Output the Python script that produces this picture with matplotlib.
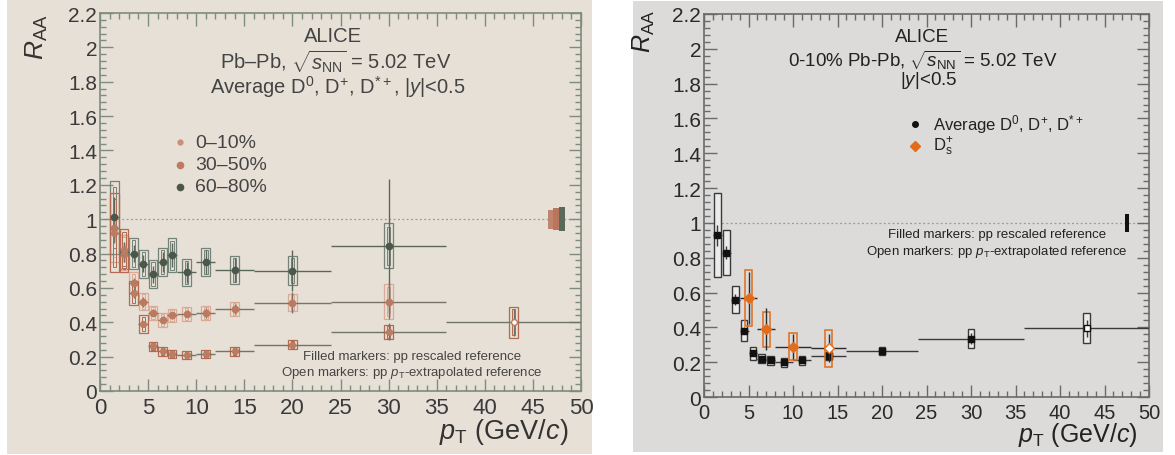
import matplotlib
matplotlib.use('Agg')
import matplotlib.pyplot as plt
from matplotlib.patches import Rectangle
from matplotlib.lines import Line2D
from matplotlib.ticker import MultipleLocator, FuncFormatter

plt.rcParams['font.family'] = ['Liberation Sans', 'DejaVu Sans']
plt.rcParams['mathtext.fontset'] = 'custom'
plt.rcParams['mathtext.rm'] = 'Liberation Sans'
plt.rcParams['mathtext.it'] = 'Liberation Sans:italic'
plt.rcParams['mathtext.bf'] = 'Liberation Sans:bold'

# ---------------- data ----------------
pt = [1.5, 2.5, 3.5, 4.5, 5.5, 6.5, 7.5, 9, 11, 14, 20, 30, 43]
pt_hw = [0.5, 0.5, 0.5, 0.5, 0.5, 0.5, 0.5, 1, 1, 2, 4, 6, 7]

# left panel: Pb-Pb centrality classes
raa_0_10 = [0.92, 0.82, 0.57, 0.39, 0.26, 0.23, 0.215, 0.21, 0.215, 0.23, 0.27, 0.345, 0.40]
stat_0_10 = [0.06, 0.04, 0.03, 0.02, 0.015, 0.015, 0.015, 0.015, 0.015, 0.02, 0.02, 0.05, 0.08]
syst_0_10 = [0.23, 0.125, 0.07, 0.05, 0.025, 0.025, 0.025, 0.025, 0.025, 0.025, 0.025, 0.04, 0.09]
open_0_10 = [False] * 12 + [True]

raa_30_50 = [0.95, 0.80, 0.63, 0.52, 0.455, 0.415, 0.44, 0.45, 0.455, 0.477, 0.515, 0.52]
stat_30_50 = [0.08, 0.05, 0.03, 0.03, 0.02, 0.02, 0.02, 0.02, 0.03, 0.03, 0.06, 0.10]
syst_30_50 = [0.20, 0.11, 0.06, 0.05, 0.04, 0.04, 0.04, 0.04, 0.04, 0.04, 0.05, 0.10]

raa_60_80 = [1.01, 0.81, 0.80, 0.74, 0.68, 0.75, 0.79, 0.69, 0.75, 0.705, 0.70, 0.845]
stat_60_80 = [0.12, 0.06, 0.05, 0.05, 0.05, 0.06, 0.07, 0.06, 0.07, 0.07, 0.12, 0.39]
syst_60_80 = [0.21, 0.10, 0.09, 0.08, 0.08, 0.08, 0.10, 0.08, 0.08, 0.08, 0.085, 0.13]

norm_left_pos = [46.9, 47.4, 48.0]
norm_left_unc = [0.055, 0.065, 0.07]

# right panel: 0-10%
raa_avgD = [0.93, 0.83, 0.56, 0.38, 0.25, 0.22, 0.21, 0.20, 0.21, 0.235, 0.265, 0.335, 0.395]
stat_avgD = [0.06, 0.04, 0.03, 0.02, 0.012, 0.012, 0.012, 0.012, 0.012, 0.015, 0.02, 0.03, 0.05]
syst_avgD = [0.24, 0.13, 0.08, 0.06, 0.035, 0.025, 0.025, 0.025, 0.025, 0.025, 0.025, 0.055, 0.085]
open_avgD = [False] * 12 + [True]

pt_Ds = [5, 7, 10, 14]
pt_hw_Ds = [1, 1, 2, 2]
raa_Ds = [0.57, 0.39, 0.29, 0.28]
stat_Ds = [0.15, 0.12, 0.07, 0.08]
syst_Ds = [0.16, 0.10, 0.075, 0.105]
open_Ds = [False, False, False, True]

norm_right_pos = 47.5
norm_right_unc = 0.05

legend_left = ['0–10%', '30–50%', '60–80%']

# ---------------- figure ----------------
W, H = 1175, 456
fig = plt.figure(figsize=(W / 100, H / 100), dpi=100)
fig.patch.set_facecolor('white')


def fx(x):
    return x / W


def fy(y):
    return 1 - y / H


# panel backgrounds
fig.add_artist(Rectangle((fx(7), fy(455)), fx(592) - fx(7), fy(0) - fy(455),
                         transform=fig.transFigure, facecolor='#e7e0d6',
                         edgecolor='none', zorder=-10))
fig.add_artist(Rectangle((fx(633), fy(453)), fx(1163) - fx(633), fy(2) - fy(453),
                         transform=fig.transFigure, facecolor='#dcdbda',
                         edgecolor='none', zorder=-10))

axL = fig.add_axes([fx(100), fy(392), fx(581) - fx(100), fy(14) - fy(392)])
axR = fig.add_axes([fx(704), fy(398), fx(1149) - fx(704), fy(15) - fy(398)])


def fmt(v, pos):
    v = round(v, 3)
    return f'{v:g}'


def style_axes(ax, spine_col, lab_col, xls, yls):
    ax.set_facecolor('none')
    ax.set_xlim(0, 50)
    ax.set_ylim(0, 2.2)
    ax.xaxis.set_major_locator(MultipleLocator(5))
    ax.xaxis.set_minor_locator(MultipleLocator(1))
    ax.yaxis.set_major_locator(MultipleLocator(0.2))
    ax.yaxis.set_minor_locator(MultipleLocator(0.04))
    ax.yaxis.set_major_formatter(FuncFormatter(fmt))
    ax.tick_params(which='both', direction='in', top=True, right=True,
                   color=spine_col, width=1.0)
    ax.tick_params(which='major', length=9)
    ax.tick_params(which='minor', length=4.5)
    ax.tick_params(axis='x', which='major', labelsize=xls, pad=4, labelcolor=lab_col)
    ax.tick_params(axis='y', which='major', labelsize=yls, pad=2, labelcolor=lab_col)
    for s in ax.spines.values():
        s.set_color(spine_col)
        s.set_linewidth(1.2)
    ax.axhline(1.0, color='#9a9a9a', lw=0.9, ls=(0, (1.5, 2)), zorder=1)


style_axes(axL, '#7f8b7f', '#3a3a3a', 16, 15)
style_axes(axR, '#6a6a6a', '#2a2a2a', 14.5, 15)


def draw_series(ax, x, xhw, y, stat, syst, bhw, mcol, bcol, ecol, marker, ms,
                openflags=None, inner=False, bface='none', z=3, blw=0.9):
    n = len(y)
    for i in range(n):
        ax.add_patch(Rectangle((x[i] - bhw, y[i] - syst[i]), 2 * bhw, 2 * syst[i],
                               facecolor=bface, edgecolor=bcol, lw=blw, zorder=z))
        if inner:
            ax.add_patch(Rectangle((x[i] - bhw * 0.4, y[i] - syst[i] * 0.85),
                                   2 * bhw * 0.4, 2 * syst[i] * 0.85,
                                   facecolor='none', edgecolor=bcol, lw=0.7, zorder=z))
    ax.errorbar(x[:n], y, xerr=xhw[:n], yerr=stat, fmt='none', ecolor=ecol,
                elinewidth=1.0, capsize=0, zorder=z + 1)
    for i in range(n):
        op = openflags[i] if openflags is not None else False
        ax.plot([x[i]], [y[i]], marker=marker, ms=ms, color=mcol,
                mfc='white' if op else mcol, mec=mcol, mew=1.0, zorder=z + 2,
                linestyle='none')


# ---- left panel ----
draw_series(axL, pt, pt_hw, raa_60_80, stat_60_80, syst_60_80, 0.45,
            '#4a574a', '#74837a', '#5a685a', 'o', 4.5, inner=True)
draw_series(axL, pt, pt_hw, raa_30_50, stat_30_50, syst_30_50, 0.45,
            '#b97a60', '#dba996', '#7a7468', 'o', 4.5, inner=True)
draw_series(axL, pt, pt_hw, raa_0_10, stat_0_10, syst_0_10, 0.45,
            '#bb7c62', '#b36a50', '#6f7568', 'o', 4.2, openflags=open_0_10, inner=True)

norm_cols_left = ['#c08470', '#b8765c', '#5a6a5a']
for xp, u, c in zip(norm_left_pos, norm_left_unc, norm_cols_left):
    axL.add_patch(Rectangle((xp - 0.3, 1 - u), 0.6, 2 * u, facecolor=c,
                            edgecolor='none', zorder=4))

# ---- right panel ----
draw_series(axR, pt, pt_hw, raa_avgD, stat_avgD, syst_avgD, 0.38,
            '#111111', '#3a3a3a', '#3a3a3a', 's', 4.5, openflags=open_avgD,
            bface='#ebebeb', blw=1.0)
draw_series(axR, pt_Ds, pt_hw_Ds, raa_Ds, stat_Ds, syst_Ds, 0.4,
            '#e06c1c', '#e06c1c', '#2a2a2a', 'D', 5.0, openflags=open_Ds, z=5,
            blw=1.1)
axR.add_patch(Rectangle((norm_right_pos - 0.2, 1 - norm_right_unc), 0.4,
                        2 * norm_right_unc, facecolor='#111111',
                        edgecolor='none', zorder=4))

# ---- axis titles ----
fig.text(fx(37), fy(14), r'$R_{\rm AA}$', rotation=90, ha='center', va='top',
         fontsize=19, color='#333333')
fig.text(fx(644), fy(10), r'$R_{\rm AA}$', rotation=90, ha='center', va='top',
         fontsize=18, color='#222222')
fig.text(fx(568), fy(432), r'$p_{\rm T}$ (GeV/$c$)', ha='right', va='center',
         fontsize=19.5, color='#333333')
fig.text(fx(1138), fy(435), r'$p_{\rm T}$ (GeV/$c$)', ha='right', va='center',
         fontsize=18, color='#222222')

# ---- left annotations ----
tc = '#444444'
fig.text(fx(333), fy(37), 'ALICE', ha='center', va='center', fontsize=14.5, color=tc)
fig.text(fx(336), fy(62), r'Pb–Pb, $\sqrt{s_{\rm NN}}$ = 5.02 TeV', ha='center',
         va='center', fontsize=14.5, color=tc)
fig.text(fx(338), fy(87), r'Average D$^{0}$, D$^{+}$, D$^{*+}$, $|y|$<0.5',
         ha='center', va='center', fontsize=14.5, color=tc)

leg_cols = ['#c99078', '#bb7c62', '#4a574a']
leg_ms = [3.5, 4.5, 4.5]
for i, (lab, c, m) in enumerate(zip(legend_left, leg_cols, leg_ms)):
    yy = 143 + i * 22.5
    fig.add_artist(Line2D([fx(180)], [fy(yy)], transform=fig.transFigure,
                          marker='o', ms=m, color=c, linestyle='none'))
    fig.text(fx(195), fy(yy), lab, ha='left', va='center', fontsize=14, color=tc)

fig.text(fx(412), fy(357), 'Filled markers: pp rescaled reference', ha='center',
         va='center', fontsize=9.5, color=tc)
fig.text(fx(412), fy(373), r'Open markers: pp $p_{\rm T}$-extrapolated reference',
         ha='center', va='center', fontsize=9.5, color=tc)

# ---- right annotations ----
tr = '#222222'
fig.text(fx(922), fy(37), 'ALICE', ha='center', va='center', fontsize=13.5, color=tr)
fig.text(fx(923), fy(60), r'0-10% Pb-Pb, $\sqrt{s_{\rm NN}}$ = 5.02 TeV',
         ha='center', va='center', fontsize=13.5, color=tr)
fig.text(fx(929), fy(81), r'$|y|$<0.5', ha='center', va='center', fontsize=13.5,
         color=tr)
fig.add_artist(Line2D([fx(915)], [fy(125)], transform=fig.transFigure,
                      marker='o', ms=4, color='#111111', linestyle='none'))
fig.text(fx(933), fy(125), r'Average D$^{0}$, D$^{+}$, D$^{*+}$', ha='left',
         va='center', fontsize=12, color=tr)
fig.add_artist(Line2D([fx(915)], [fy(147)], transform=fig.transFigure,
                      marker='D', ms=5, color='#e06c1c', linestyle='none'))
fig.text(fx(933), fy(147), r'D$_{\rm s}^{+}$', ha='left', va='center',
         fontsize=12, color=tr)
fig.text(fx(997), fy(235), 'Filled markers: pp rescaled reference', ha='center',
         va='center', fontsize=9.5, color=tr)
fig.text(fx(997), fy(252), r'Open markers: pp $p_{\rm T}$-extrapolated reference',
         ha='center', va='center', fontsize=9.5, color=tr)

fig.savefig('out.png', dpi=100)
